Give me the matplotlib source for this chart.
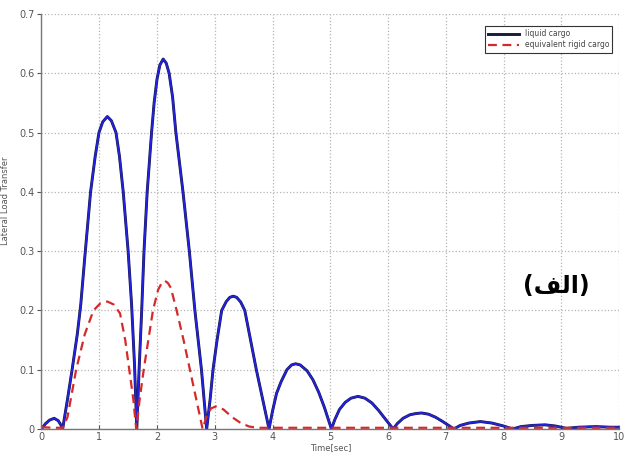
import matplotlib.pyplot as plt

# liquid cargo (blue)
t_liquid = [0, 0.07, 0.14, 0.22, 0.29, 0.34, 0.366,
            0.45, 0.53, 0.62, 0.68, 0.75, 0.85, 0.93, 0.995, 1.06, 1.14, 1.21, 1.29, 1.35, 1.415, 1.50, 1.56, 1.61, 1.65,
            1.69, 1.735, 1.775, 1.83, 1.906, 1.95, 2.0, 2.05, 2.107, 2.16, 2.21, 2.27, 2.327, 2.45, 2.56, 2.656, 2.77, 2.86,
            2.92, 2.97, 3.04, 3.12, 3.2, 3.26, 3.32, 3.38, 3.45, 3.52, 3.62, 3.72, 3.83, 3.94,
            4.0, 4.07, 4.15, 4.25, 4.33, 4.40, 4.48, 4.6, 4.7, 4.8, 4.9, 4.96, 5.02,
            5.08, 5.16, 5.26, 5.36, 5.48, 5.6, 5.72, 5.84, 5.96, 6.09,
            6.16, 6.26, 6.38, 6.48, 6.58, 6.7, 6.82, 6.94, 7.05, 7.14,
            7.25, 7.4, 7.6, 7.8, 8.0, 8.16,
            8.3, 8.5, 8.72, 8.9, 9.09, 9.3, 9.6, 9.85, 10.0]
llt_liquid = [0, 0.009, 0.015, 0.018, 0.014, 0.006, 0,
              0.05, 0.1, 0.16, 0.21, 0.29, 0.4, 0.46, 0.5, 0.518, 0.527, 0.52, 0.5, 0.46, 0.4, 0.3, 0.21, 0.11, 0,
              0.1, 0.2, 0.3, 0.4, 0.5, 0.55, 0.59, 0.614, 0.624, 0.617, 0.6, 0.56, 0.5, 0.4, 0.3, 0.2, 0.1, 0,
              0.05, 0.1, 0.15, 0.2, 0.215, 0.222, 0.224, 0.222, 0.214, 0.2, 0.15, 0.1, 0.05, 0,
              0.03, 0.06, 0.08, 0.1, 0.108, 0.11, 0.108, 0.098, 0.083, 0.062, 0.036, 0.018, 0,
              0.016, 0.033, 0.045, 0.052, 0.055, 0.052, 0.044, 0.031, 0.016, 0,
              0.009, 0.018, 0.024, 0.026, 0.027, 0.025, 0.02, 0.013, 0.006, 0,
              0.006, 0.01, 0.0125, 0.01, 0.005, 0,
              0.004, 0.006, 0.007, 0.005, 0.001, 0.003, 0.004, 0.003, 0.003]

# equivalent rigid cargo (red dashed)
t_rigid = [0, 0.2, 0.37, 0.45, 0.6, 0.75, 0.9, 1.02, 1.14, 1.25, 1.36, 1.45, 1.52, 1.59, 1.64,
           1.7, 1.77, 1.85, 1.93, 2.02, 2.08, 2.137, 2.19, 2.24, 2.34, 2.46, 2.57, 2.68, 2.79,
           2.87, 2.94, 3.02, 3.15, 3.3, 3.45, 3.6, 3.75, 5.0, 6.0, 7.0, 8.0, 9.0, 10.0]
llt_rigid = [0.003, 0.002, 0.002, 0.02, 0.1, 0.16, 0.2, 0.212, 0.215, 0.21, 0.195, 0.15, 0.1, 0.05, 0,
             0.05, 0.1, 0.15, 0.2, 0.235, 0.246, 0.25, 0.246, 0.238, 0.2, 0.15, 0.1, 0.05, 0,
             0.025, 0.035, 0.038, 0.033, 0.02, 0.01, 0.004, 0.002, 0.002, 0.002, 0.002, 0.002, 0.002, 0.002]

x_ticks = list(range(0, 11))
y_ticks = [0, 0.1, 0.2, 0.3, 0.4, 0.5, 0.6, 0.7]
y_tick_labels = ['0', '0.1', '0.2', '0.3', '0.4', '0.5', '0.6', '0.7']

fig = plt.figure(figsize=(6.24, 4.59), dpi=100)
ax = fig.add_axes([0.0665, 0.0654, 0.9255, 0.9041])

ax.plot(t_liquid, llt_liquid, color='#1a1a3a', lw=2.1, label='liquid cargo')
ax.plot(t_liquid, llt_liquid, color='#2222dd', lw=1.4)
ax.plot(t_rigid, llt_rigid, color='#d42a2a', lw=1.6, ls=(0, (4, 2.5)), label='equivalent rigid cargo')

ax.set_xlim(0, 10)
ax.set_ylim(0, 0.7)
ax.set_xticks(x_ticks)
ax.set_yticks(y_ticks)
ax.set_yticklabels(y_tick_labels)
ax.tick_params(axis='both', labelsize=7, colors='#555555', length=3, width=0.8)
ax.tick_params(axis='x', direction='in', pad=2)
ax.tick_params(axis='y', direction='out', pad=2)
ax.grid(True, ls=':', color='#b5b5b5', lw=0.9)

for s in ['top', 'right']:
    ax.spines[s].set_visible(False)
for s in ['left', 'bottom']:
    ax.spines[s].set_color('#777777')
    ax.spines[s].set_linewidth(1.0)

ax.set_xlabel('Time[sec]', fontsize=6, color='#555555', labelpad=1)
ax.set_ylabel('Lateral Load Transfer', fontsize=6, color='#555555')
ax.yaxis.set_label_coords(-0.055, 0.55)

leg = ax.legend(loc='upper right', bbox_to_anchor=(0.995, 0.98), fontsize=5.5, handlelength=4,
                fancybox=False, framealpha=1, borderpad=0.4, labelspacing=0.3)
leg.get_frame().set_edgecolor('#333333')
leg.get_frame().set_linewidth(0.8)
for txt in leg.get_texts():
    txt.set_color('#444444')

# Arabic label "(الف)" written with presentation forms in visual order
ax.text(8.92, 0.241, '(\ufed2\ufedf\u0627)', fontsize=17, fontweight='bold',
        family='DejaVu Sans', ha='center', va='center', color='black')

fig.savefig('out.png', dpi=100)
